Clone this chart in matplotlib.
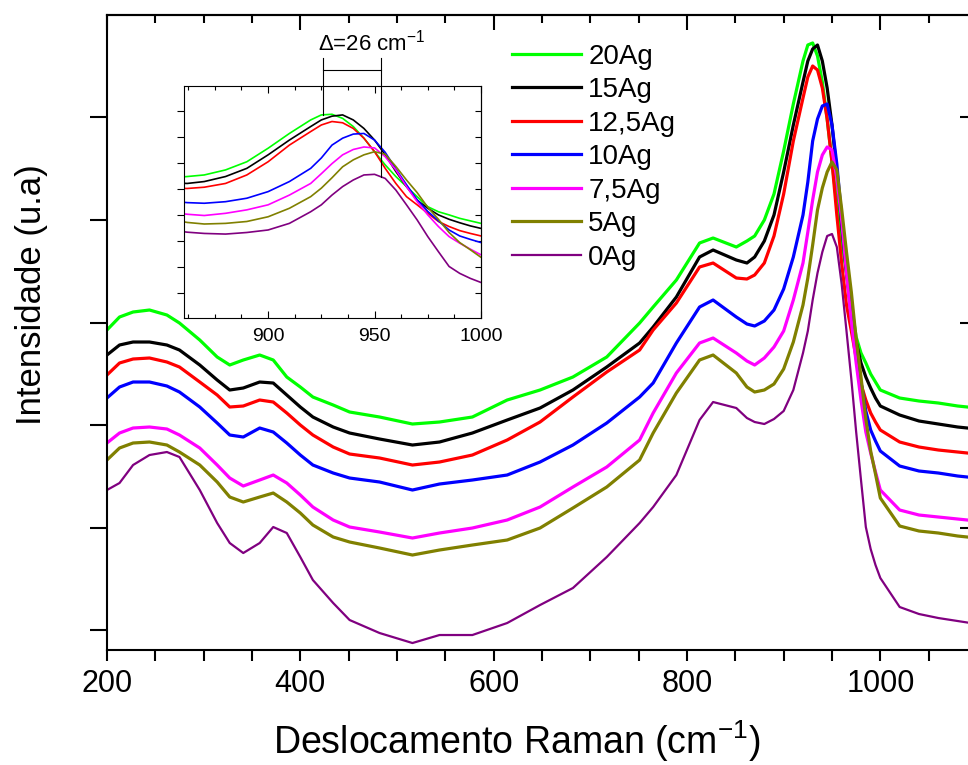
import matplotlib
matplotlib.use('Agg')
import matplotlib.pyplot as plt
from matplotlib.ticker import MultipleLocator, FixedLocator, NullFormatter

plt.rcParams['font.family'] = 'Liberation Sans'
plt.rcParams['mathtext.fontset'] = 'custom'
plt.rcParams['mathtext.rm'] = 'Liberation Sans'
plt.rcParams['mathtext.it'] = 'Liberation Sans:italic'

# Raman shift (cm-1)
x = [200, 213, 227, 244, 262, 275, 296, 314, 327, 341, 358, 372, 386, 400, 413,
     434, 451, 482, 516, 544, 578, 614, 648, 682, 717, 751, 765, 789, 813, 827,
     851, 862, 870, 880, 890, 900, 910, 920, 925, 930, 935, 940, 945, 950, 955,
     960, 965, 970, 975, 980, 985, 990, 995, 1000, 1020, 1040, 1060, 1080, 1100]

# intensidade (u.a.)
ag20 = [320, 333, 338, 340, 335, 327, 310, 293, 285, 290, 295, 290, 273, 263, 253,
        245, 238, 233, 226, 228, 233, 250, 260, 273, 293, 327, 343, 370, 407, 412,
        403, 409, 414, 430, 456, 499, 546, 589, 605, 607, 594, 568, 531, 488, 446,
        409, 377, 345, 313, 297, 287, 276, 268, 260, 252, 249, 247, 244, 242]
ag15 = [295, 305, 308, 308, 305, 300, 285, 270, 260, 262, 268, 267, 255, 243, 233,
        223, 217, 211, 205, 208, 217, 230, 242, 260, 283, 307, 323, 353, 393, 400,
        390, 387, 393, 409, 435, 478, 525, 568, 589, 601, 605, 589, 562, 525, 478,
        425, 377, 334, 308, 287, 273, 262, 252, 244, 235, 229, 226, 223, 221]
ag12_5 = [275, 287, 291, 292, 288, 283, 268, 255, 243, 244, 250, 248, 237, 225, 215,
          203, 196, 192, 185, 188, 195, 210, 228, 253, 278, 300, 320, 347, 383, 387,
          372, 371, 375, 387, 414, 456, 509, 552, 573, 584, 580, 562, 531, 488, 435,
          387, 345, 319, 292, 266, 250, 237, 228, 220, 208, 203, 200, 198, 196]
ag10 = [252, 263, 268, 268, 264, 258, 243, 227, 215, 213, 222, 218, 207, 195, 185,
        177, 172, 168, 160, 166, 170, 175, 188, 205, 227, 253, 267, 307, 343, 350,
        333, 326, 324, 329, 340, 361, 393, 435, 468, 509, 531, 544, 546, 525, 486,
        433, 383, 335, 298, 268, 239, 220, 209, 199, 184, 179, 177, 174, 172]
ag7_5 = [207, 217, 222, 223, 221, 215, 202, 185, 172, 164, 170, 175, 167, 155, 143,
         130, 123, 118, 112, 117, 122, 130, 143, 163, 183, 210, 237, 277, 307, 312,
         297, 289, 285, 292, 303, 319, 350, 387, 418, 450, 478, 495, 503, 500, 472,
         430, 377, 329, 287, 250, 218, 197, 178, 160, 140, 135, 133, 131, 129]
ag5 = [190, 202, 207, 208, 205, 198, 185, 168, 153, 148, 153, 157, 148, 137, 125,
       113, 108, 102, 95, 100, 105, 110, 122, 142, 163, 190, 217, 257, 290, 295,
       277, 263, 258, 260, 266, 281, 308, 345, 372, 405, 440, 462, 478, 488, 480,
       441, 398, 358, 311, 273, 231, 199, 176, 152, 124, 119, 117, 114, 112]
ag0 = [160, 167, 185, 195, 198, 193, 160, 127, 107, 97, 107, 123, 117, 93, 70,
       47, 30, 17, 7, 15, 15, 27, 45, 62, 93, 127, 143, 175, 230, 248,
       242, 232, 228, 226, 231, 239, 260, 297, 319, 350, 377, 398, 414, 416, 403,
       366, 319, 271, 218, 170, 123, 101, 85, 72, 43, 36, 32, 29, 26]

series = [ag20, ag15, ag12_5, ag10, ag7_5, ag5, ag0]
labels = ['20Ag', '15Ag', '12,5Ag', '10Ag', '7,5Ag', '5Ag', '0Ag']
colors = ['#00ff00', '#000000', '#ff0000', '#0000ff', '#ff00ff', '#808000', '#800080']

fig = plt.figure(figsize=(9.68, 7.65), dpi=100)
ax = fig.add_axes([0.1105, 0.1503, 0.8988, 0.8301])

for y, c, lab in zip(series, colors, labels):
    lw = 1.6 if lab == '0Ag' else 2.3
    ax.plot(x, y, color=c, lw=lw, label=lab)

ax.set_xlim(200, 1100)
ax.set_ylim(0, 635)
ax.xaxis.set_major_locator(MultipleLocator(200))
ax.xaxis.set_minor_locator(MultipleLocator(50))
ax.yaxis.set_major_locator(FixedLocator([122.5, 327.5, 532.5]))
ax.yaxis.set_minor_locator(FixedLocator([20, 225, 430]))
ax.yaxis.set_major_formatter(NullFormatter())
ax.tick_params(axis='x', which='both', direction='out', length=8, width=1.5,
               labelsize=22, pad=6)
ax.tick_params(axis='y', which='both', direction='out', length=12, width=1.5)
for s in ax.spines.values():
    s.set_linewidth(1.5)

top = ax.secondary_xaxis('top')
top.xaxis.set_major_locator(MultipleLocator(200))
top.xaxis.set_minor_locator(MultipleLocator(50))
top.tick_params(which='major', direction='in', length=11, width=1.5, labeltop=False)
top.tick_params(which='minor', direction='in', length=6, width=1.5)
top.spines['top'].set_linewidth(1.5)

right = ax.secondary_yaxis('right')
right.yaxis.set_major_locator(FixedLocator([122.5, 327.5, 532.5]))
right.yaxis.set_minor_locator(FixedLocator([20, 225, 430]))
right.tick_params(which='major', direction='in', length=12, width=1.5, labelright=False)
right.tick_params(which='minor', direction='in', length=6, width=1.5)

ax.set_xlabel('Deslocamento Raman (cm$^{-1}$)', fontsize=27)
ax.xaxis.set_label_coords(0.471, -0.108)
ax.set_ylabel('Intensidade (u.a)', fontsize=25)
ax.yaxis.set_label_coords(-0.068, 0.559)

ax.legend(loc='upper left', bbox_to_anchor=(0.4655, 0.955), frameon=False,
          fontsize=20, handlelength=2.5, handletextpad=0.25, labelspacing=0.27,
          borderpad=0, borderaxespad=0)

# inset: zoom of the main band
ax_in = fig.add_axes([0.1901, 0.5843, 0.3068, 0.3033])
for y, c in zip(series, colors):
    ax_in.plot(x, y, color=c, lw=1.2)
ax_in.set_xlim(860.5, 1000)
ax_in.set_ylim(-41, 697)
ax_in.xaxis.set_major_locator(MultipleLocator(50))
ax_in.xaxis.set_minor_locator(MultipleLocator(12.5))
ax_in.yaxis.set_major_locator(FixedLocator([38.6, 121.3, 204, 286.7, 369.4, 452.1, 534.8, 617.5]))
ax_in.yaxis.set_major_formatter(NullFormatter())
ax_in.tick_params(axis='x', which='major', direction='in', top=True, length=5,
                  width=0.8, labelsize=14, pad=7)
ax_in.tick_params(axis='x', which='minor', direction='in', top=True, length=3, width=0.8)
ax_in.tick_params(axis='y', direction='out', length=5, width=0.8)
for s in ax_in.spines.values():
    s.set_linewidth(0.8)
rin = ax_in.secondary_yaxis('right')
rin.yaxis.set_major_locator(FixedLocator([38.6, 121.3, 204, 286.7, 369.4, 452.1, 534.8, 617.5]))
rin.tick_params(direction='in', length=4, width=0.8, labelright=False)
rin.spines['right'].set_linewidth(0.8)

# shift of the band maximum
ax_in.plot([925.7, 925.7], [786, 605], color='k', lw=0.8, clip_on=False)
ax_in.plot([952.8, 952.8], [786, 408], color='k', lw=0.8, clip_on=False)
ax_in.plot([925.7, 952.8], [748, 748], color='k', lw=0.8, clip_on=False)
ax_in.text(948.5, 835, '$\\Delta$=26 cm$^{-1}$', fontsize=16, ha='center', va='center')

fig.savefig('out.png', dpi=100)
